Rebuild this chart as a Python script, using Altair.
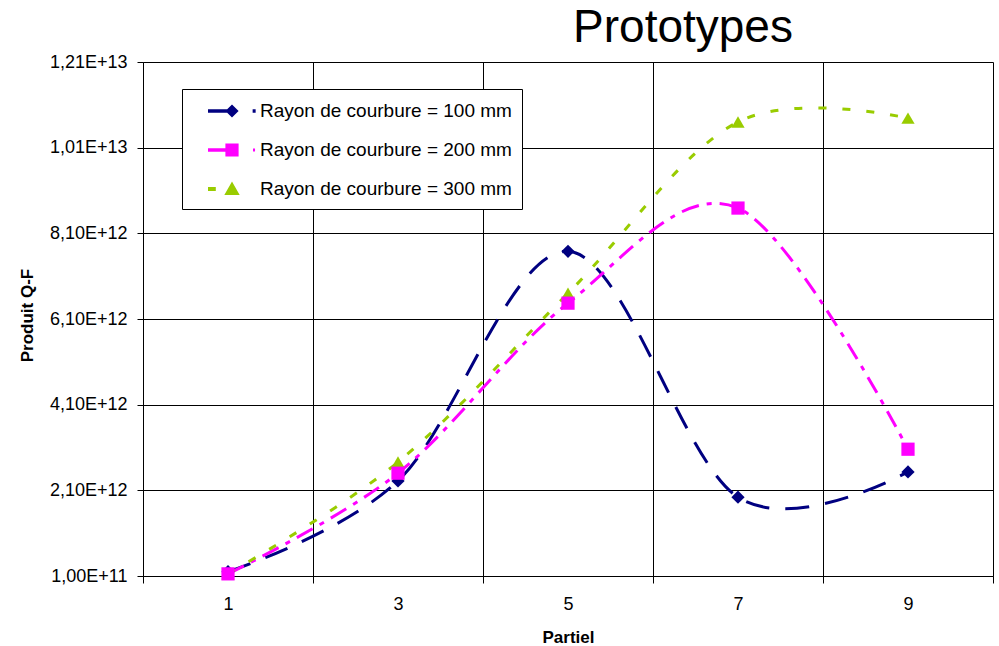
import altair as alt
import pandas as pd

# ---- data ----
partiel = [1, 3, 5, 7, 9]
rayon_100 = [2.0e11, 2.32e12, 7.68e12, 1.94e12, 2.53e12]
rayon_200 = [1.5e11, 2.50e12, 6.47e12, 8.69e12, 3.06e12]
rayon_300 = [1.5e11, 2.76e12, 6.70e12, 1.07e13, 1.079e13]

series_names = [
    "Rayon de courbure = 100 mm",
    "Rayon de courbure = 200 mm",
    "Rayon de courbure = 300 mm",
]
series_values = [rayon_100, rayon_200, rayon_300]

y_tick_values = [1e11, 2.1e12, 4.1e12, 6.1e12, 8.1e12, 1.01e13, 1.21e13]
x_tick_values = list(range(0, 11))

# ---- styles ----
series_colors = ["#000080", "#FF00FF", "#99CC00"]
series_dash = [[24, 16], [18, 8, 5, 8], [8, 16]]
series_shapes = ["diamond", "square", "triangle-up"]
legend_paths = [
    "M-2,-0.14L-0.4,-0.14L-0.4,0.14L-2,0.14Z M0,-0.55L0.55,0L0,0.55L-0.55,0Z M1.72,-0.14L1.97,-0.14L1.97,0.14L1.72,0.14Z",
    "M-2,-0.14L-0.5,-0.14L-0.5,0.14L-2,0.14Z M-0.55,-0.55L0.55,-0.55L0.55,0.55L-0.55,0.55Z M1.75,-0.12L1.92,-0.12L1.92,0.12L1.75,0.12Z",
    "M-2,-0.16L-1.35,-0.16L-1.35,0.16L-2,0.16Z M0,-0.62L0.64,0.5L-0.64,0.5Z",
]

rows = []
for name, vals in zip(series_names, series_values):
    for p, v in zip(partiel, vals):
        rows.append({"series": name, "partiel": p, "value": v})
df = pd.DataFrame(rows)

FONT = "Liberation Sans"

X = alt.X(
    "partiel:Q",
    scale=alt.Scale(domain=[0, 10], nice=False, zero=False),
    axis=alt.Axis(
        values=x_tick_values,
        title="Partiel",
        titleX=425,
        titleY=66,
        titleBaseline="alphabetic",
        grid=True,
        gridOpacity={"condition": {"test": "datum.value % 2 == 1", "value": 0}, "value": 1},
        tickOpacity={"condition": {"test": "datum.value % 2 == 1", "value": 0}, "value": 1},
        labelExpr="datum.value % 2 == 1 ? datum.label : ''",
        tickSize=7,
        labelPadding=12,
        labelFlush=False,
    ),
)

Y = alt.Y(
    "value:Q",
    scale=alt.Scale(domain=[1e11, 1.21e13], nice=False, zero=False),
    axis=alt.Axis(
        values=y_tick_values,
        title="Produit Q-F",
        titleX=-111,
        titleY=253,
        titleAngle=-90,
        titleAlign="center",
        titleBaseline="alphabetic",
        labelExpr="replace(replace(format(datum.value, '.2e'), '.', ','), 'e', 'E')",
        tickSize=6,
        labelPadding=10,
        grid=True,
    ),
)

base = alt.Chart(df)
layers = []
for name, color, dash in zip(series_names, series_colors, series_dash):
    layers.append(
        base.transform_filter(alt.datum.series == name)
        .mark_line(interpolate="cardinal", color=color, strokeDash=dash, strokeWidth=3)
        .encode(x=X, y=Y)
    )

for idx in [0, 2, 1]:
    layers.append(
        base.transform_filter(alt.datum.series == series_names[idx])
        .mark_point(filled=True, shape=series_shapes[idx], size=175, color=series_colors[idx], opacity=1)
        .encode(x=X, y=Y)
    )

leg = alt.Legend(
    title=None,
    orient="none",
    direction="vertical",
    legendX=39,
    legendY=27,
    fillColor="white",
    strokeColor="black",
    padding=10,
    symbolSize=576,
    symbolOffset=28,
    labelOffset=16,
    rowPadding=17,
    labelFont=FONT,
    labelFontSize=19,
    labelColor="black",
    labelLimit=500,
    symbolStrokeWidth=0,
    symbolOpacity=1,
)

layers.append(
    base.transform_filter("false")
    .mark_point(filled=True, opacity=1)
    .encode(
        x=X,
        y=Y,
        color=alt.Color("series:N", scale=alt.Scale(domain=series_names, range=series_colors), legend=leg),
        shape=alt.Shape("series:N", scale=alt.Scale(domain=series_names, range=legend_paths), legend=leg),
    )
)

chart = (
    alt.layer(*layers)
    .properties(
        width=850,
        height=514,
        title=alt.TitleParams(
            "Prototypes",
            font=FONT,
            fontSize=46,
            fontWeight=400,
            color="black",
            anchor="middle",
            frame="group",
            dx=115,
            dy=48,
            offset=13,
            baseline="alphabetic",
        ),
        autosize=alt.AutoSizeParams(type="none"),
        padding={"left": 143, "top": 62, "right": 6, "bottom": 70},
    )
    .configure_view(stroke=None)
    .configure_axis(
        labelFont=FONT,
        labelFontSize=18,
        labelColor="black",
        titleFont=FONT,
        titleFontSize=17,
        titleFontWeight="bold",
        titleColor="black",
        domainColor="black",
        domainWidth=1,
        tickColor="black",
        tickWidth=1,
        gridColor="black",
        gridWidth=1,
    )
)

chart.save("out.html", embed_options={"renderer": "svg", "actions": False})
